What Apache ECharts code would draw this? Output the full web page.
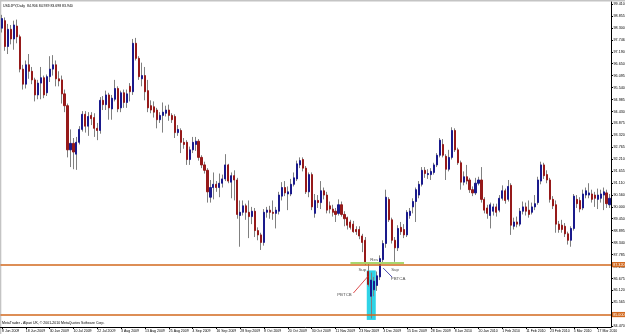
<!DOCTYPE html>
<html><head><meta charset="utf-8">
<script src="https://cdn.jsdelivr.net/npm/echarts@6/dist/echarts.min.js"></script>
<style>html,body{margin:0;padding:0;background:#fff}#c{width:625px;height:334px}</style>
</head><body><div id="c"></div>
<script>
// ---- data ----
const categories = [
"8 Jun 2009","9 Jun 2009","10 Jun 2009","11 Jun 2009","12 Jun 2009","15 Jun 2009","16 Jun 2009","17 Jun 2009","18 Jun 2009","19 Jun 2009","22 Jun 2009","23 Jun 2009","24 Jun 2009","25 Jun 2009","26 Jun 2009","29 Jun 2009","30 Jun 2009",
"1 Jul 2009","2 Jul 2009","3 Jul 2009","6 Jul 2009","7 Jul 2009","8 Jul 2009","9 Jul 2009","10 Jul 2009","13 Jul 2009","14 Jul 2009","15 Jul 2009","16 Jul 2009","17 Jul 2009","20 Jul 2009","21 Jul 2009","22 Jul 2009","23 Jul 2009","24 Jul 2009","27 Jul 2009","28 Jul 2009","29 Jul 2009","30 Jul 2009","31 Jul 2009",
"3 Aug 2009","4 Aug 2009","5 Aug 2009","6 Aug 2009","7 Aug 2009","10 Aug 2009","11 Aug 2009","12 Aug 2009","13 Aug 2009","14 Aug 2009","17 Aug 2009","18 Aug 2009","19 Aug 2009","20 Aug 2009","21 Aug 2009","24 Aug 2009","25 Aug 2009","26 Aug 2009","27 Aug 2009","28 Aug 2009","31 Aug 2009",
"1 Sep 2009","2 Sep 2009","3 Sep 2009","4 Sep 2009","7 Sep 2009","8 Sep 2009","9 Sep 2009","10 Sep 2009","11 Sep 2009","14 Sep 2009","15 Sep 2009","16 Sep 2009","17 Sep 2009","18 Sep 2009","21 Sep 2009","22 Sep 2009","23 Sep 2009","24 Sep 2009","25 Sep 2009","28 Sep 2009","29 Sep 2009","30 Sep 2009",
"1 Oct 2009","2 Oct 2009","5 Oct 2009","6 Oct 2009","7 Oct 2009","8 Oct 2009","9 Oct 2009","12 Oct 2009","13 Oct 2009","14 Oct 2009","15 Oct 2009","16 Oct 2009","19 Oct 2009","20 Oct 2009","21 Oct 2009","22 Oct 2009","23 Oct 2009","26 Oct 2009","27 Oct 2009","28 Oct 2009","29 Oct 2009","30 Oct 2009",
"2 Nov 2009","3 Nov 2009","4 Nov 2009","5 Nov 2009","6 Nov 2009","9 Nov 2009","10 Nov 2009","11 Nov 2009","12 Nov 2009","13 Nov 2009","16 Nov 2009","17 Nov 2009","18 Nov 2009","19 Nov 2009","20 Nov 2009","23 Nov 2009","24 Nov 2009","25 Nov 2009","26 Nov 2009","27 Nov 2009","30 Nov 2009",
"1 Dec 2009","2 Dec 2009","3 Dec 2009","4 Dec 2009","7 Dec 2009","8 Dec 2009","9 Dec 2009","10 Dec 2009","11 Dec 2009","14 Dec 2009","15 Dec 2009","16 Dec 2009","17 Dec 2009","18 Dec 2009","21 Dec 2009","22 Dec 2009","23 Dec 2009","24 Dec 2009","28 Dec 2009","29 Dec 2009","30 Dec 2009","31 Dec 2009",
"4 Jan 2010","5 Jan 2010","6 Jan 2010","7 Jan 2010","8 Jan 2010","11 Jan 2010","12 Jan 2010","13 Jan 2010","14 Jan 2010","15 Jan 2010","18 Jan 2010","19 Jan 2010","20 Jan 2010","21 Jan 2010","22 Jan 2010","25 Jan 2010","26 Jan 2010","27 Jan 2010","28 Jan 2010","29 Jan 2010",
"1 Feb 2010","2 Feb 2010","3 Feb 2010","4 Feb 2010","5 Feb 2010","8 Feb 2010","9 Feb 2010","10 Feb 2010","11 Feb 2010","12 Feb 2010","15 Feb 2010","16 Feb 2010","17 Feb 2010","18 Feb 2010","19 Feb 2010","22 Feb 2010","23 Feb 2010","24 Feb 2010","25 Feb 2010","26 Feb 2010",
"1 Mar 2010","2 Mar 2010","3 Mar 2010","4 Mar 2010","5 Mar 2010","8 Mar 2010","9 Mar 2010","10 Mar 2010","11 Mar 2010","12 Mar 2010","15 Mar 2010","16 Mar 2010","17 Mar 2010","18 Mar 2010","19 Mar 2010","22 Mar 2010","23 Mar 2010"
];
const openPrices = [
98.30,98.65,97.45,98.25,97.80,98.40,97.90,96.40,95.70,96.60,
96.30,95.90,95.20,95.75,96.00,95.30,96.05,96.40,96.60,95.95,
95.90,95.25,94.70,92.65,92.95,92.45,93.00,93.60,94.30,93.75,
94.25,94.15,93.65,93.55,94.95,94.75,95.20,94.55,95.00,95.50,
94.60,95.30,94.85,95.60,95.35,97.60,96.90,95.95,96.10,95.40,
94.70,94.65,94.50,94.05,94.25,94.35,94.50,94.25,94.20,93.45,
93.55,93.00,93.00,92.20,92.65,92.90,93.05,92.30,91.95,91.70,
90.45,90.90,91.05,90.90,91.10,91.30,91.95,91.15,91.45,91.25,
89.60,89.75,90.05,89.75,89.55,89.80,88.90,88.70,88.35,89.75,
89.85,89.75,89.70,89.80,90.50,90.90,90.60,90.60,91.05,91.30,
91.95,92.20,91.80,90.70,91.50,89.70,90.30,90.20,90.75,90.55,
90.05,89.90,89.80,89.70,90.10,89.65,89.50,89.30,89.20,88.95,
88.95,88.65,88.45,87.00,85.85,86.15,86.35,86.75,87.55,88.30,
90.35,89.40,88.45,88.10,89.05,88.95,88.70,89.60,90.00,90.25,
90.55,91.05,91.70,91.50,91.50,91.60,91.95,92.40,92.90,92.35,
91.75,92.30,93.55,92.65,92.05,91.15,91.40,91.25,90.80,90.65,
91.10,91.25,90.35,89.95,89.60,89.80,90.00,89.85,90.40,90.75,
90.35,91.00,89.10,89.30,89.20,89.80,90.00,89.85,89.75,90.00,
90.20,91.20,91.95,91.50,91.25,90.35,90.10,89.20,89.15,89.10,
88.75,88.45,89.00,90.35,90.30,89.95,90.55,90.55,90.60,90.55,
90.35,90.40,90.55,90.65,90.10
];
const closePrices = [
98.75,97.45,98.25,97.80,98.45,97.90,96.40,95.70,96.60,96.30,
95.90,95.20,95.75,96.00,95.20,96.05,96.40,96.60,95.95,95.85,
95.25,94.70,92.65,92.95,92.55,93.00,93.60,94.30,93.75,94.20,
94.10,93.65,93.55,94.95,94.75,95.20,94.60,95.05,95.50,94.55,
95.30,94.85,95.25,95.35,97.60,96.90,96.05,96.10,95.35,94.60,
94.50,94.40,94.05,94.25,94.40,94.50,94.25,94.05,93.45,93.60,
93.00,92.90,92.20,92.65,93.00,93.05,92.30,91.95,91.70,90.70,
90.90,91.05,90.90,91.10,91.30,91.95,91.20,91.45,91.25,89.65,
89.75,90.05,89.75,89.55,89.80,88.90,88.70,88.35,89.75,89.85,
89.75,89.70,89.85,90.55,90.90,90.65,90.70,91.05,91.35,92.00,
92.15,91.80,90.70,91.50,90.00,90.30,90.20,90.75,90.55,89.85,
89.90,89.75,89.65,90.10,89.65,89.45,89.15,89.05,88.85,88.85,
88.65,88.35,87.45,86.40,86.60,86.55,86.80,87.60,88.30,90.45,
89.40,88.45,88.10,89.00,88.85,88.70,89.75,89.80,90.25,90.80,
91.05,91.70,91.55,91.55,91.65,91.95,92.40,93.10,92.40,91.75,
92.30,93.55,92.65,92.05,91.15,91.40,91.20,90.80,90.65,91.10,
91.25,90.35,89.85,89.70,90.10,90.00,89.75,90.40,90.75,90.30,
90.95,89.15,89.30,89.20,89.80,90.00,89.80,89.65,90.00,90.15,
91.25,91.95,91.45,91.25,90.35,90.05,89.20,88.95,88.95,88.75,
88.45,89.00,90.50,90.15,89.90,90.60,90.75,90.65,90.35,90.40,
90.55,90.60,90.70,90.15,90.40
];
const lowPrices = [
98.10,97.25,97.10,97.55,97.30,97.60,96.25,95.45,95.50,95.95,
95.70,94.90,95.00,95.00,95.05,95.15,95.80,96.10,95.60,95.60,
94.80,94.40,92.30,91.85,91.75,91.72,92.90,93.50,93.45,93.30,
93.80,93.25,93.10,93.40,94.50,94.50,94.05,94.05,94.90,94.40,
94.40,94.60,94.60,94.90,95.20,96.80,95.90,95.60,94.95,94.40,
94.35,94.15,93.65,93.90,93.45,94.20,94.00,93.90,93.20,93.30,
92.50,92.70,91.95,91.95,92.50,92.60,92.15,91.80,91.55,90.20,
90.20,90.35,90.70,90.45,90.90,91.20,91.10,90.40,90.30,89.45,
88.15,89.60,89.40,88.55,89.20,88.60,88.45,88.00,88.20,89.50,
89.45,89.40,89.00,89.65,90.30,90.50,89.85,90.50,90.95,91.20,
91.80,91.65,90.60,90.45,89.85,89.50,89.95,89.90,90.35,89.70,
89.70,89.55,89.30,89.60,89.55,89.10,88.95,88.95,88.80,88.70,
88.50,87.90,87.30,86.30,84.82,85.85,86.10,86.60,87.40,88.10,
89.30,88.30,87.45,87.95,88.70,88.55,88.60,89.45,89.70,89.30,
90.40,90.95,91.35,91.30,91.25,91.50,91.85,92.30,92.30,91.25,
91.65,92.20,92.55,91.95,90.80,91.00,91.05,90.65,90.50,90.55,
91.00,90.20,89.70,89.45,89.00,89.60,89.55,89.75,90.30,90.15,
90.25,88.70,88.95,89.05,89.10,89.65,89.60,89.50,89.65,89.85,
90.10,91.05,91.30,91.10,90.20,89.90,88.80,88.80,88.80,88.60,
88.25,88.15,88.90,89.95,89.75,89.85,90.40,90.40,90.20,90.00,
89.90,90.20,89.85,89.95,89.95
];
const highPrices = [
98.92,98.80,98.50,98.45,98.65,98.70,98.00,96.60,96.80,97.10,
96.50,96.00,95.90,96.50,96.10,96.15,97.00,97.05,96.80,96.30,
96.10,95.45,94.80,93.60,93.20,93.25,93.75,94.45,94.45,94.40,
94.40,94.35,93.90,95.10,95.15,95.40,95.30,95.20,95.90,95.60,
95.40,95.45,95.45,95.75,97.80,97.85,97.00,96.70,96.50,95.90,
94.95,94.90,94.60,94.40,94.85,94.70,94.75,94.35,94.30,93.80,
93.65,93.20,93.10,92.80,93.25,93.25,93.15,92.40,92.10,91.80,
91.25,91.60,91.20,91.55,91.50,92.45,92.00,91.60,91.70,91.35,
90.30,90.30,90.15,90.30,90.00,89.95,89.05,88.80,89.90,90.00,
90.05,90.30,90.00,90.70,91.15,91.20,90.95,91.30,91.60,92.15,
92.30,92.30,91.90,91.60,91.60,90.60,90.55,91.20,90.90,90.70,
90.25,90.10,89.95,90.35,90.25,89.80,89.55,89.40,89.35,89.10,
89.10,88.75,88.60,87.40,86.95,86.75,87.00,87.75,88.45,90.80,
90.45,89.50,88.60,89.15,89.30,89.20,89.85,89.95,90.40,90.90,
91.20,91.85,91.85,91.75,91.80,92.05,92.50,93.20,93.15,92.45,
92.65,93.70,93.65,92.75,92.15,91.65,91.95,91.35,90.95,91.35,
91.40,91.85,90.45,90.10,90.20,90.15,90.15,90.55,91.00,90.85,
91.25,91.10,89.50,89.55,89.95,90.25,90.20,90.30,90.20,90.55,
91.40,92.10,92.05,91.70,91.35,90.50,90.30,89.35,89.40,89.25,
88.85,89.10,90.60,90.55,90.45,90.80,90.90,91.10,90.80,90.70,
90.85,90.80,90.90,90.80,90.60
];
const yTickValues = [99.410,98.855,98.300,97.746,97.190,96.650,96.095,95.540,94.985,94.430,93.875,93.320,92.765,92.210,91.655,91.110,90.560,90.000,89.450,88.895,88.340,87.785,87.230,86.675,86.120,85.565,85.000,84.470];
const hLineLevels = [87.32, 85.00];
const hLineLabels = ["87.320", "85.000"];
const supportSegment = {from: 117, to: 135, level: 87.42};
const redArrow = [[118, 86.00], [123, 86.79]];
const blueArrow = [[131, 86.74], [128, 87.16]];
const cyanBox = {index: 124, low: 84.75, high: 87.05};
const noteTexts = ["Sup", "Res", "Sup", "PBTCB", "PBTCA"];
const noteX = [121, 125, 132, 115, 133];
const noteY = [87.07, 87.53, 87.07, 85.91, 86.65];
const titleText = "USDJPY,Daily  84.906 84.939 83.698 83.940";
const footerText = "MetaTrader - Alpari UK, \u00a9 2001-2010 MetaQuotes Software Corp.";

// ---- chart ----
const FONT = "'Liberation Sans', Arial, sans-serif";
const BULL = "#1a1a8c", BEAR = "#961a1a", WICK = "#808080", ORANGE = "#d2691e";
const fullCandles = openPrices.map((o, i) => [o, closePrices[i], lowPrices[i], highPrices[i]]);
const bodyCandles = openPrices.map((o, i) => [o, closePrices[i], Math.min(o, closePrices[i]), Math.max(o, closePrices[i])]);
const boxBase = categories.map((c, i) => i === cyanBox.index ? cyanBox.low : null);
const boxSpan = categories.map((c, i) => i === cyanBox.index ? +(cyanBox.high - cyanBox.low).toFixed(2) : null);

const chart = echarts.init(document.getElementById('c'), null, {renderer: 'canvas'});
chart.setOption({
  animation: false,
  backgroundColor: '#ffffff',
  grid: {left: 0.5, right: 14, top: 2, bottom: 7, containLabel: false, outerBoundsMode: 'none'},
  xAxis: {
    type: 'category', data: categories, boundaryGap: true,
    axisLine: {show: true, lineStyle: {color: '#000', width: 1}},
    axisTick: {show: true, interval: 7, alignWithLabel: true, length: 2, lineStyle: {color: '#000'}},
    axisLabel: {interval: 7, align: 'left', fontSize: 3.5, color: '#000', margin: 2, fontFamily: FONT, hideOverlap: false},
    splitLine: {show: false}
  },
  yAxis: {
    type: 'value', position: 'right', min: 84.422, max: 99.517,
    axisLine: {show: true, lineStyle: {color: '#000', width: 1}},
    axisTick: {show: true, length: 2, customValues: yTickValues, lineStyle: {color: '#000'}},
    axisLabel: {customValues: yTickValues, formatter: v => v.toFixed(3), fontSize: 3.7, color: '#000', margin: 2.5, fontFamily: FONT},
    splitLine: {show: false}
  },
  series: [
    {type: 'bar', stack: 'box', data: boxBase, barWidth: 9, itemStyle: {color: 'rgba(0,0,0,0)'}, z: 1, silent: true},
    {type: 'bar', stack: 'box', data: boxSpan, barWidth: 9, itemStyle: {color: '#2fd3e6'}, z: 1, silent: true},
    {
      type: 'candlestick', name: 'wick', data: fullCandles, barWidth: 1, z: 2,
      itemStyle: {color: WICK, color0: WICK, borderColor: WICK, borderColor0: WICK, borderWidth: 1},
      markLine: {
        silent: true, symbol: ['none', 'none'], z: 5,
        data: [
          {yAxis: hLineLevels[0], lineStyle: {color: ORANGE, width: 1.5, type: 'solid'},
           label: {show: true, position: 'end', formatter: hLineLabels[0], color: '#fff', backgroundColor: ORANGE, fontSize: 3.7, padding: [0.6, 1.2], distance: 1, fontFamily: FONT}},
          {yAxis: hLineLevels[1], lineStyle: {color: ORANGE, width: 1.5, type: 'solid'},
           label: {show: true, position: 'end', formatter: hLineLabels[1], color: '#fff', backgroundColor: ORANGE, fontSize: 3.7, padding: [0.6, 1.2], distance: 1, fontFamily: FONT}},
          [{coord: [supportSegment.from, supportSegment.level], lineStyle: {color: '#a9d66e', width: 2, type: 'solid'}, label: {show: false}},
           {coord: [supportSegment.to, supportSegment.level]}],
          [{coord: redArrow[0], lineStyle: {color: '#d42020', width: 0.8, type: 'solid'}, label: {show: false}}, {coord: redArrow[1]}],
          [{coord: blueArrow[0], lineStyle: {color: '#1f1f9a', width: 0.8, type: 'solid'}, label: {show: false}}, {coord: blueArrow[1]}]
        ]
      }
    },
    {
      type: 'candlestick', name: 'body', data: bodyCandles, barWidth: 1.6, z: 3,
      itemStyle: {color: BULL, color0: BEAR, borderColor: BULL, borderColor0: BEAR, borderWidth: 1}
    },
    {
      type: 'scatter', z: 6, symbolSize: 0, silent: true,
      data: noteX.map((x, i) => [x, noteY[i], noteTexts[i]]),
      label: {show: true, position: 'inside', formatter: p => p.data[2], fontSize: 4.4, color: '#222', fontFamily: FONT}
    }
  ],
  graphic: [
    {type: 'rect', shape: {x: 0, y: 0, width: 625, height: 1.5}, style: {fill: '#c4c4c4'}, silent: true},
    {type: 'rect', shape: {x: 0, y: 0, width: 1.3, height: 334}, style: {fill: '#c4c4c4'}, silent: true},
    {type: 'text', left: 3, top: 4, style: {text: titleText, fontSize: 3.5, fill: '#000', font: "3.5px 'Liberation Sans', Arial, sans-serif"}, silent: true},
    {type: 'text', left: 2, top: 321.5, style: {text: footerText, fontSize: 3.5, fill: '#000', font: "3.5px 'Liberation Sans', Arial, sans-serif"}, silent: true}
  ]
});
</script>
</body></html>
